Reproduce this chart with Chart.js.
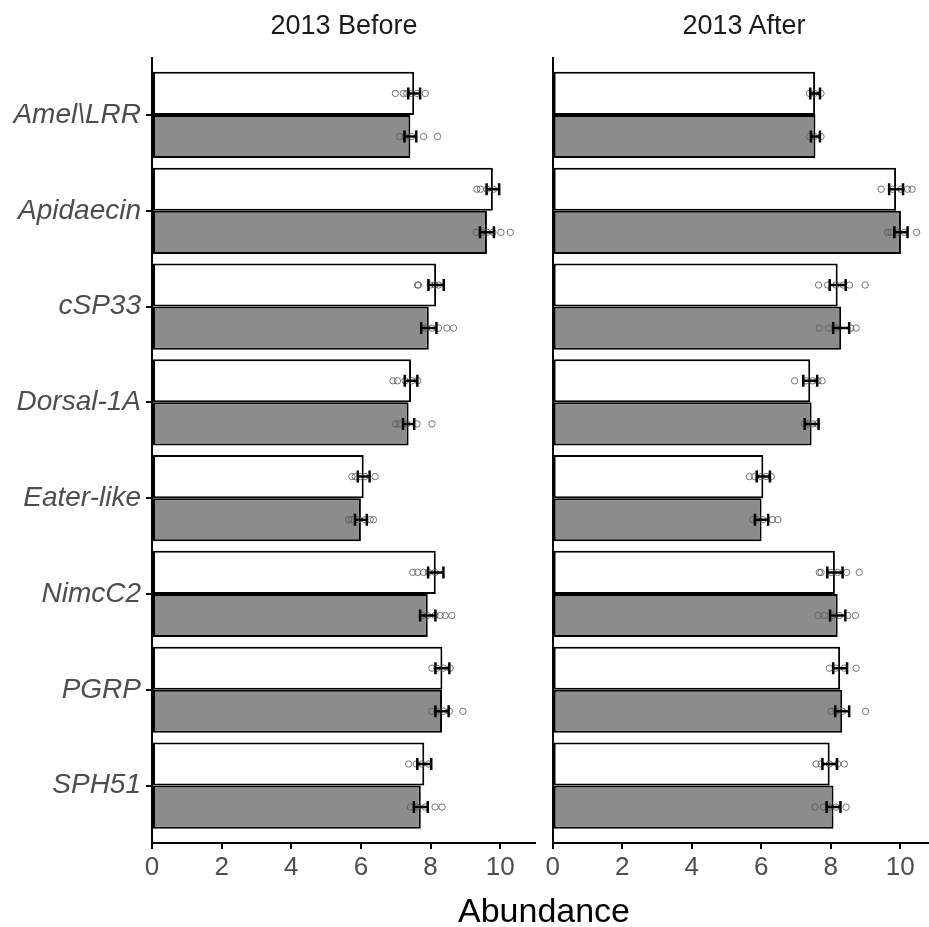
<!DOCTYPE html>
<html>
<head>
<meta charset="utf-8">
<script src="https://cdn.jsdelivr.net/npm/chart.js@4.4.1/dist/chart.umd.min.js"></script>
<style>
  html, body { margin: 0; padding: 0; background: #fff; overflow: hidden; }
  body { width: 929px; height: 927px; position: relative; font-family: 'Liberation Sans', Arial, sans-serif; }
  canvas { position: absolute; top: 0; }
  .strip { position: absolute; top: 12px; font-size: 27px; line-height: 1; color: #1a1a1a; transform: translateX(-50%); white-space: nowrap; }
  #xtitle { position: absolute; top: 893px; left: 544px; font-size: 34px; line-height: 1; color: #000; transform: translateX(-50%); white-space: nowrap; }
</style>
</head>
<body>
<canvas id="before" width="545" height="927" style="left:0px"></canvas>
<canvas id="after" width="400" height="927" style="left:540px"></canvas>
<div class="strip" style="left:344px">2013 Before</div>
<div class="strip" style="left:744px">2013 After</div>
<div id="xtitle">Abundance</div>

<script>
'use strict';

const genes = ['Amel\\LRR', 'Apidaecin', 'cSP33', 'Dorsal-1A', 'Eater-like', 'NimcC2', 'PGRP', 'SPH51'];
const xTicks = [0, 2, 4, 6, 8, 10];

// 2013 Before
const beforeWhite = [7.53, 9.79, 8.16, 7.44, 6.08, 8.15, 8.34, 7.82];
const beforeGray = [7.42, 9.62, 7.95, 7.37, 6.00, 7.92, 8.33, 7.72];
const beforeWhiteSE = [0.17, 0.18, 0.22, 0.18, 0.17, 0.22, 0.20, 0.20];
const beforeGraySE = [0.17, 0.20, 0.22, 0.16, 0.17, 0.22, 0.19, 0.20];
const beforeWhitePts = [
  [6.99, 7.22, 7.32, 7.46, 7.61, 7.85],
  [9.33, 9.43, 9.62, 9.81],
  [7.63, 7.65, 7.99, 8.13, 8.23],
  [6.92, 7.05, 7.27, 7.46, 7.63],
  [5.74, 5.84, 5.98, 6.12, 6.41],
  [7.49, 7.63, 7.80, 7.94, 8.13],
  [8.04, 8.18, 8.37, 8.56],
  [7.37, 7.59, 7.75, 7.94]
];
const beforeGrayPts = [
  [7.11, 7.27, 7.46, 7.80, 8.20],
  [9.31, 9.47, 9.62, 9.79, 10.02, 10.29],
  [7.85, 8.04, 8.23, 8.47, 8.66],
  [6.99, 7.11, 7.32, 7.61, 8.04],
  [5.65, 5.74, 5.93, 6.12, 6.27, 6.36],
  [7.75, 7.91, 8.13, 8.28, 8.42, 8.61],
  [8.04, 8.18, 8.37, 8.54, 8.93],
  [7.42, 7.61, 7.85, 8.13, 8.33]
];

// 2013 After
const afterWhite = [7.55, 9.88, 8.20, 7.41, 6.06, 8.12, 8.27, 7.97];
const afterGray = [7.56, 10.02, 8.30, 7.45, 6.01, 8.20, 8.33, 8.08];
const afterWhiteSE = [0.14, 0.20, 0.23, 0.20, 0.19, 0.22, 0.20, 0.21];
const afterGraySE = [0.13, 0.19, 0.23, 0.20, 0.19, 0.22, 0.20, 0.20];
const afterWhitePts = [
  [7.39, 7.53, 7.72],
  [9.45, 9.78, 10.02, 10.21, 10.34],
  [7.65, 7.91, 8.15, 8.36, 8.54, 8.99],
  [6.96, 7.29, 7.48, 7.63, 7.75],
  [5.66, 5.81, 6.00, 6.14, 6.29],
  [7.67, 7.72, 8.01, 8.20, 8.46, 8.82],
  [7.96, 8.15, 8.39, 8.73],
  [7.58, 7.72, 7.96, 8.20, 8.39]
];
const afterGrayPts = [
  [7.39, 7.53, 7.72],
  [9.64, 9.73, 9.92, 10.12, 10.47],
  [7.67, 7.94, 8.15, 8.58, 8.73],
  [7.24, 7.34, 7.48, 7.60],
  [5.76, 5.86, 6.05, 6.32, 6.48],
  [7.63, 7.82, 8.06, 8.25, 8.49, 8.71],
  [8.01, 8.15, 8.34, 9.00],
  [7.55, 7.79, 7.96, 8.15, 8.44]
];

const DODGE = 0.225;
const tickGray = '#4d4d4d';

function barData(vals) {
  return vals.map((v, i) => ({ x: v, y: i + 1 }));
}

function ptData(pts, shift) {
  const out = [];
  pts.forEach((row, i) => row.forEach(v => out.push({ x: v, y: i + 1 + shift })));
  return out;
}

function errPlugin(series) {
  return {
    id: 'errbars',
    afterDatasetsDraw(chart) {
      const ctx = chart.ctx;
      const xs = chart.scales.x, ys = chart.scales.y;
      ctx.save();
      ctx.strokeStyle = '#000';
      ctx.lineWidth = 2.5;
      series.forEach(s => {
        s.mean.forEach((m, i) => {
          const y = ys.getPixelForValue(i + 1 + s.shift);
          const x0 = xs.getPixelForValue(m - s.se[i]);
          const x1 = xs.getPixelForValue(m + s.se[i]);
          ctx.beginPath();
          ctx.moveTo(x0, y); ctx.lineTo(x1, y);
          ctx.moveTo(x0, y - 6); ctx.lineTo(x0, y + 6);
          ctx.moveTo(x1, y - 6); ctx.lineTo(x1, y + 6);
          ctx.stroke();
        });
      });
      ctx.restore();
    }
  };
}

function makePanel(id, white, gray, whiteSE, graySE, whitePts, grayPts, showLabels, padding, yWidth) {
  const ptStyle = {
    type: 'scatter',
    order: 1,
    pointRadius: 3.2,
    pointBorderWidth: 1,
    pointBackgroundColor: 'rgba(0,0,0,0)',
    pointBorderColor: 'rgba(85,85,85,0.8)'
  };
  return new Chart(document.getElementById(id), {
    type: 'bar',
    data: {
      datasets: [
        { label: 'white', data: barData(white), backgroundColor: '#ffffff', borderColor: '#000', borderWidth: 2, borderSkipped: false, order: 2 },
        { label: 'gray', data: barData(gray), backgroundColor: '#8c8c8c', borderColor: '#000', borderWidth: 2, borderSkipped: false, order: 2 },
        Object.assign({ label: 'white pts', data: ptData(whitePts, -DODGE) }, ptStyle),
        Object.assign({ label: 'gray pts', data: ptData(grayPts, DODGE) }, ptStyle)
      ]
    },
    options: {
      indexAxis: 'y',
      responsive: false,
      animation: false,
      categoryPercentage: 0.9,
      barPercentage: 1.0,
      layout: { padding: padding },
      plugins: { legend: { display: false }, tooltip: { enabled: false } },
      scales: {
        x: {
          type: 'linear',
          min: 0,
          max: 11,
          offset: false,
          afterBuildTicks: s => { s.ticks = xTicks.map(v => ({ value: v })); },
          afterFit: s => { s.height = 84; },
          ticks: { color: tickGray, font: { family: "'Liberation Sans', Arial, sans-serif", size: 26 }, padding: 3 },
          grid: { display: true, offset: false, drawOnChartArea: false, tickLength: 6, color: '#000', lineWidth: 2 },
          border: { display: true, color: '#000', width: 2 }
        },
        y: {
          type: 'linear',
          reverse: true,
          min: 0.4,
          max: 8.6,
          offset: false,
          afterBuildTicks: s => { s.ticks = genes.map((g, i) => ({ value: i + 1 })); },
          afterFit: s => { s.width = yWidth; },
          ticks: {
            display: showLabels,
            callback: v => genes[Math.round(v) - 1],
            color: tickGray,
            font: { family: "'Liberation Sans', Arial, sans-serif", size: 28, style: 'italic' },
            padding: 5
          },
          grid: { display: showLabels, offset: false, drawOnChartArea: false, tickLength: 6, color: '#000', lineWidth: 2 },
          border: { display: true, color: '#000', width: 2 }
        }
      }
    },
    plugins: [errPlugin([
      { mean: white, se: whiteSE, shift: -DODGE },
      { mean: gray, se: graySE, shift: DODGE }
    ])]
  });
}

makePanel('before', beforeWhite, beforeGray, beforeWhiteSE, beforeGraySE, beforeWhitePts, beforeGrayPts,
  true, { top: 57.5, right: 10, bottom: 0, left: 0 }, 152);
makePanel('after', afterWhite, afterGray, afterWhiteSE, afterGraySE, afterWhitePts, afterGrayPts,
  false, { top: 57.5, right: 4.2, bottom: 0, left: 12.7 }, 0);
</script>
</body>
</html>
